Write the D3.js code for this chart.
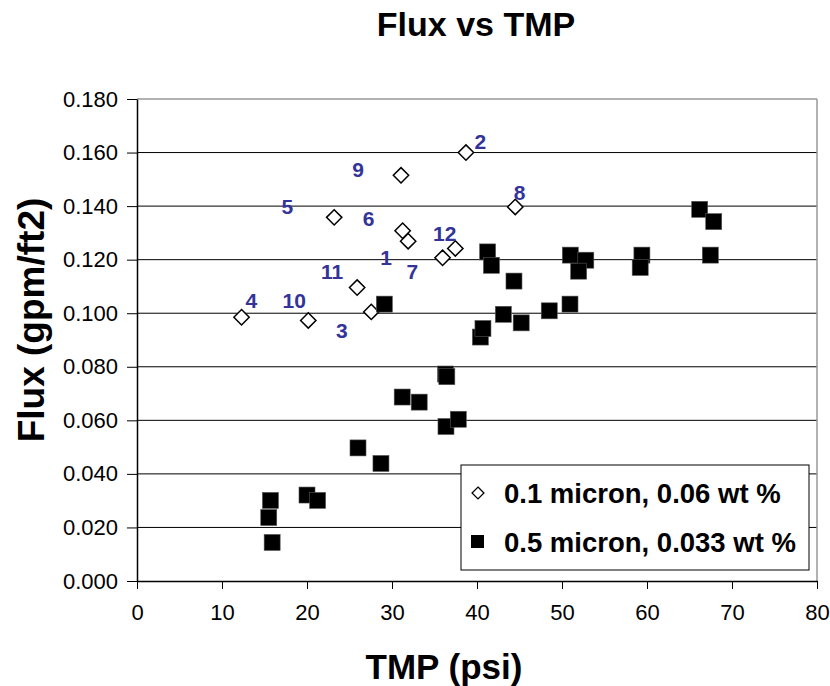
<!DOCTYPE html>
<html>
<head>
<meta charset="utf-8">
<script src="https://cdn.jsdelivr.net/npm/d3@7"></script>
<style>
  body { margin: 0; background: #fff; }
  text { font-family: Arial, "Liberation Sans", sans-serif; }
</style>
</head>
<body>
<script>
// series 1: 0.1 micron, 0.06 wt %  (open diamonds)
const tmpSmall  = [12.3, 38.7, 31.06, 44.5, 23.2, 31.25, 31.9, 35.95, 37.45, 25.9, 27.56, 20.15];
const fluxSmall = [0.0985, 0.160, 0.1515, 0.1397, 0.1358, 0.1308, 0.1269, 0.1207, 0.1242, 0.1096, 0.1005, 0.0973];

// series 2: 0.5 micron, 0.033 wt %  (filled squares)
const tmpBig  = [15.5, 15.7, 15.9, 20.0, 21.25, 26.0, 28.7, 31.2, 33.2, 36.35, 37.8, 36.3, 36.45, 29.1,
                 40.4, 40.7, 41.25, 41.7, 44.35, 43.1, 45.2, 48.5, 50.94, 50.98, 52.8, 51.96, 59.4, 59.2,
                 67.45, 66.2, 67.85];
const fluxBig = [0.0237, 0.0301, 0.0144, 0.0321, 0.0301, 0.0497, 0.0439, 0.0687, 0.0668, 0.0577, 0.0604,
                 0.0773, 0.0763, 0.1034, 0.0911, 0.0943, 0.1229, 0.1179, 0.112, 0.0996, 0.0964, 0.1009,
                 0.1034, 0.1217, 0.1198, 0.1157, 0.1217, 0.1171, 0.1217, 0.1388, 0.1342];

// run number labels (placed in data units)
const runLabels = ["1", "2", "3", "4", "5", "6", "7", "8", "9", "10", "11", "12"];
const labelTmp  = [29.3, 40.4, 24.1, 13.45, 17.7, 27.25, 32.4, 45.0, 26.0, 18.5, 22.95, 36.2];
const labelFlux = [0.1208, 0.164, 0.0936, 0.1046, 0.1397, 0.1354, 0.1154, 0.1451, 0.1538, 0.1046, 0.1154, 0.1298];

const seriesNames = ["0.1 micron, 0.06 wt %", "0.5 micron, 0.033 wt %"];
const yTicks = [0, 0.02, 0.04, 0.06, 0.08, 0.10, 0.12, 0.14, 0.16, 0.18];
const xTicks = [0, 10, 20, 30, 40, 50, 60, 70, 80];

const W = 830, H = 686;
const plotL = 137, plotR = 817, plotT = 99, plotB = 581;

let svg = d3.select("body").append("svg")
  .attr("width", W)
  .attr("height", H);

let x = d3.scaleLinear().domain([0, 80]).range([plotL, plotR]);
let y = d3.scaleLinear().domain([0, 0.18]).range([plotB, plotT]);

// gridlines
svg.append("g")
  .selectAll("line").data(yTicks.slice(1, -1))
  .enter().append("line")
    .attr("x1", plotL).attr("x2", plotR)
    .attr("y1", d => y(d)).attr("y2", d => y(d))
    .attr("stroke", "#000").attr("stroke-width", 1);

// plot frame (top and right in grey)
svg.append("line").attr("x1", plotL).attr("x2", plotR).attr("y1", plotT).attr("y2", plotT)
  .attr("stroke", "#999").attr("stroke-width", 1.5);
svg.append("line").attr("x1", plotR).attr("x2", plotR).attr("y1", plotT).attr("y2", plotB)
  .attr("stroke", "#999").attr("stroke-width", 1.5);

// axes
let xAxis = svg.append("g")
  .attr("transform", "translate(0," + plotB + ")")
  .call(d3.axisBottom(x).tickValues(xTicks).tickSize(8).tickPadding(15).tickSizeOuter(0));
let yAxis = svg.append("g")
  .attr("transform", "translate(" + plotL + ",0)")
  .call(d3.axisLeft(y).tickValues(yTicks).tickFormat(d3.format(".3f")).tickSize(10).tickPadding(9).tickSizeOuter(0));

[xAxis, yAxis].forEach(a => {
  a.select(".domain").attr("stroke", "#000").attr("stroke-width", 1.5);
  a.selectAll(".tick line").attr("stroke", "#000");
  a.selectAll("text")
    .attr("fill", "#000")
    .style("font-size", "22px")
    .style("font-family", "Arial, 'Liberation Sans', sans-serif");
});

// diamonds
let diamond = d3.symbol().type(d3.symbolDiamond2).size(150);
svg.append("g")
  .selectAll("path").data(d3.range(tmpSmall.length))
  .enter().append("path")
    .attr("d", diamond)
    .attr("transform", i => "translate(" + x(tmpSmall[i]) + "," + y(fluxSmall[i]) + ")")
    .attr("fill", "#fff")
    .attr("stroke", "#000")
    .attr("stroke-width", 1.5);

// squares
let sq = 16;
svg.append("g")
  .selectAll("rect").data(d3.range(tmpBig.length))
  .enter().append("rect")
    .attr("x", i => x(tmpBig[i]) - sq / 2)
    .attr("y", i => y(fluxBig[i]) - sq / 2)
    .attr("width", sq).attr("height", sq)
    .attr("fill", "#000")
    .attr("stroke", "#555")
    .attr("stroke-width", 0.6);

// run labels
svg.append("g")
  .selectAll("text").data(runLabels)
  .enter().append("text")
    .attr("x", (d, i) => x(labelTmp[i]))
    .attr("y", (d, i) => y(labelFlux[i]))
    .attr("text-anchor", "middle")
    .attr("dominant-baseline", "central")
    .attr("fill", "#333399")
    .style("font-size", "21px")
    .style("font-weight", "bold")
    .text(d => d);

// legend
let lg = svg.append("g");
lg.append("rect")
  .attr("x", 461).attr("y", 465).attr("width", 348).attr("height", 105)
  .attr("fill", "#fff").attr("stroke", "#000").attr("stroke-width", 1);
lg.append("path")
  .attr("d", d3.symbol().type(d3.symbolDiamond2).size(90))
  .attr("transform", "translate(478,493)")
  .attr("fill", "#fff").attr("stroke", "#000").attr("stroke-width", 1.3);
lg.append("rect")
  .attr("x", 471).attr("y", 535).attr("width", 13).attr("height", 13)
  .attr("fill", "#000");
lg.selectAll("text.lab").data(seriesNames)
  .enter().append("text")
    .attr("class", "lab")
    .attr("x", 504)
    .attr("y", (d, i) => 503 + i * 48.5)
    .style("font-size", "27.5px")
    .style("font-weight", "bold")
    .text(d => d);

// titles
svg.append("text")
  .attr("x", 476).attr("y", 36)
  .attr("text-anchor", "middle")
  .style("font-size", "34px").style("font-weight", "bold")
  .text("Flux vs TMP");
svg.append("text")
  .attr("x", 444).attr("y", 679)
  .attr("text-anchor", "middle")
  .style("font-size", "35px").style("font-weight", "bold")
  .text("TMP (psi)");
svg.append("text")
  .attr("transform", "translate(44,320) rotate(-90)")
  .attr("text-anchor", "middle")
  .style("font-size", "37px").style("font-weight", "bold")
  .text("Flux (gpm/ft2)");
</script>
</body>
</html>
